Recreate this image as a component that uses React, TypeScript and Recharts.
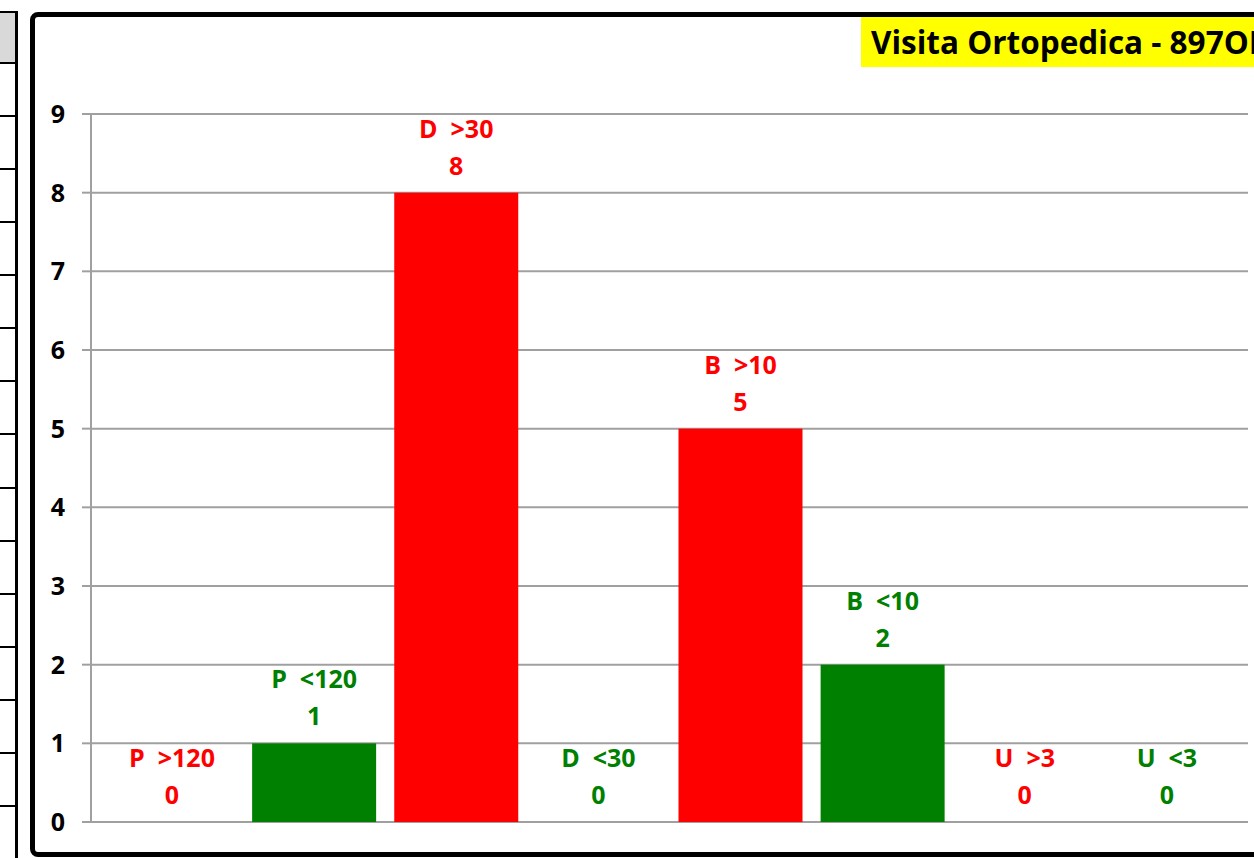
import React from "react";
import {
  BarChart,
  Bar,
  XAxis,
  YAxis,
  CartesianGrid,
} from "recharts";

const categories = ["P  >120", "P  <120", "D  >30", "D  <30", "B  >10", "B  <10", "U  >3", "U  <3"];
const values = [0, 1, 8, 0, 5, 2, 0, 0];
const yTicks = [0, 1, 2, 3, 4, 5, 6, 7, 8, 9];
const title = "Visita Ortopedica - 897OR";

const RED = "#FF0000";
const GREEN = "#008000";
const COLORS = [RED, GREEN, RED, GREEN, RED, GREEN, RED, GREEN];

const data = categories.map((name, i) => ({ name, value: values[i], color: COLORS[i] }));

// left table remnant row lines
const tableRows = [12, 63, 116, 169, 222, 275, 328, 381, 434, 488, 541, 594, 647, 700, 753, 806];

// bar + two-line label (name, value); drawn for zero bars too
const BarWithLabel = (props: any) => {
  const { x, y, width, height, payload } = props;
  const cx = x + width / 2;
  const fill = payload.color;
  return (
    <g>
      {height > 0 && <rect x={x} y={y} width={width} height={height} fill={fill} />}
      <text
        x={cx}
        y={y - 55}
        textAnchor="middle"
        fill={fill}
        fontSize={25}
        fontWeight="bold"
        style={{ whiteSpace: "pre" }}
      >
        {payload.name}
      </text>
      <text x={cx} y={y - 18} textAnchor="middle" fill={fill} fontSize={25} fontWeight="bold">
        {payload.value}
      </text>
    </g>
  );
};

export default function App() {
  return (
    <div
      style={{
        position: "absolute",
        left: 0,
        top: 0,
        width: 1254,
        height: 858,
        overflow: "hidden",
        background: "#fff",
        fontFamily: "'Open Sans', sans-serif",
      }}
    >
      {/* table strip on the left */}
      <div style={{ position: "absolute", left: 0, top: 12, width: 16, height: 51, background: "#D9D9D9" }} />
      {tableRows.map((y) => (
        <div key={y} style={{ position: "absolute", left: 0, top: y - 1, width: 17, height: 2, background: "#000" }} />
      ))}
      <div style={{ position: "absolute", left: 15, top: 11, width: 3, height: 860, background: "#000" }} />

      {/* chart frame */}
      <div
        style={{
          position: "absolute",
          left: 30,
          top: 12,
          width: 1300,
          height: 835,
          border: "5px solid #000",
          borderRadius: 8,
        }}
      />

      <div style={{ position: "absolute", left: 0, top: 0 }}>
        <BarChart
          width={1254}
          height={858}
          data={data}
          margin={{ top: 114, right: 6, bottom: 36, left: 31 }}
          barSize={124}
        >
          <CartesianGrid vertical={false} stroke="#A0A0A0" strokeWidth={2} />
          <XAxis dataKey="name" hide padding={{ left: 10, right: 10 }} />
          <YAxis
            width={60}
            domain={[0, 9]}
            ticks={yTicks}
            interval={0}
            tickSize={9}
            tickMargin={17}
            stroke="#A0A0A0"
            strokeWidth={2}
            tick={{ fill: "#000", fontSize: 25, fontWeight: "bold" }}
          />
          <Bar dataKey="value" isAnimationActive={false} shape={BarWithLabel} />
        </BarChart>
      </div>

      {/* title */}
      <div
        style={{
          position: "absolute",
          left: 861,
          top: 17,
          width: 420,
          height: 50,
          background: "#FFFF00",
          color: "#000",
          fontWeight: "bold",
          fontSize: 31.5,
          lineHeight: "50px",
          paddingLeft: 10,
          whiteSpace: "nowrap",
          boxSizing: "border-box",
        }}
      >
        {title}
      </div>
    </div>
  );
}
